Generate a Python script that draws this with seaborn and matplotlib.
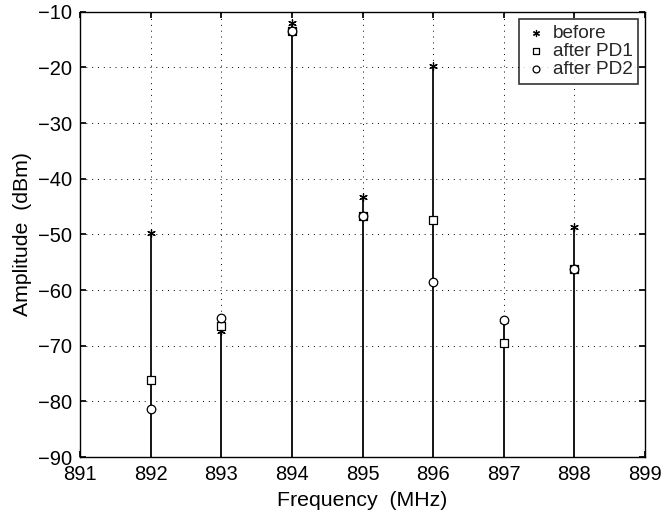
import numpy as np
import pandas as pd
import matplotlib
matplotlib.use("Agg")
import matplotlib.pyplot as plt
import seaborn as sns

# values
freq = [892, 893, 894, 895, 896, 897, 898]
before = [-49.8, -67.3, -12.0, -43.2, -19.8, -65.6, -48.7]
after_pd1 = [-76.2, -66.5, -13.4, -46.7, -47.4, -69.6, -56.2]
after_pd2 = [-81.3, -65.0, -13.4, -46.7, -58.5, -65.4, -56.2]

sns.set_theme(style="white")
plt.rcParams['font.family'] = ['Liberation Sans', 'DejaVu Sans']

df = pd.DataFrame({
    "freq": freq * 3,
    "amp": before + after_pd1 + after_pd2,
    "series": ["before"] * 7 + ["after PD1"] * 7 + ["after PD2"] * 7,
})

fig, ax = plt.subplots(figsize=(6.61, 5.15), dpi=100)
fig.subplots_adjust(left=0.121, right=0.976, top=0.977, bottom=0.1126)

base = -90
# stems (overlapping for each series, like MATLAB stem with hold on)
for vals in (before, after_pd1, after_pd2):
    ax.vlines(freq, base, vals, color="#1a1a1a", lw=1.4, zorder=2)

markers = {"before": (6, 2, 0), "after PD1": "s", "after PD2": "o"}
sizes = {"before": 30, "after PD1": 28, "after PD2": 38}
for name in ["before", "after PD1", "after PD2"]:
    sub = df[df.series == name]
    sns.scatterplot(data=sub, x="freq", y="amp", ax=ax, marker=markers[name],
                    s=sizes[name], facecolor="white" if name != "before" else "black",
                    edgecolor="black", linewidth=0.9, label=name, zorder=3)

ax.set_xlim(891, 899)
ax.set_ylim(-90, -10)
ax.set_xticks(np.arange(891, 900, 1))
ax.set_yticks(np.arange(-90, 0, 10))
ax.set_yticklabels([f"\u2212{abs(v)}" for v in range(-90, 0, 10)])
ax.grid(True, color="black", linestyle=(0, (1, 5)), linewidth=0.7)
ax.tick_params(direction="in", length=4, labelsize=14.5, colors="black", pad=6,
               top=True, right=True, bottom=True, left=True)
for sp in ax.spines.values():
    sp.set_color("black")
    sp.set_linewidth(1.0)
ax.set_xlabel("Frequency  (MHz)", fontsize=15.3, color="black", labelpad=5)
ax.set_ylabel("Amplitude  (dBm)", fontsize=15.3, color="black", labelpad=4)

leg = ax.legend(loc="upper right", fontsize=13.7, frameon=True, fancybox=False,
                edgecolor="black", handletextpad=0.25, borderpad=0.3,
                labelspacing=0.05, handlelength=1.2, borderaxespad=0.37,
                markerscale=0.8)
leg.get_frame().set_linewidth(1.2)

fig.savefig("out.png", dpi=100)
